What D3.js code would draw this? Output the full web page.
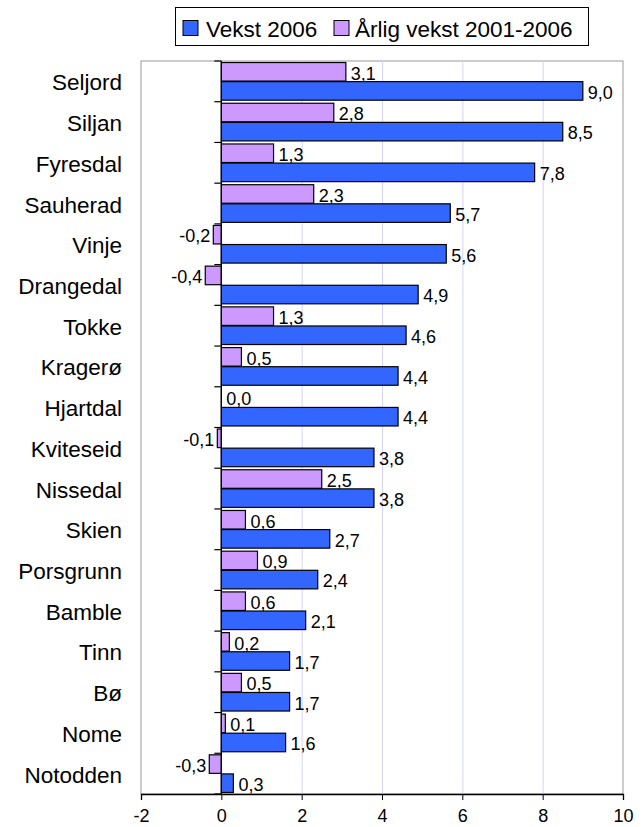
<!DOCTYPE html>
<html><head><meta charset="utf-8">
<script src="https://cdn.jsdelivr.net/npm/d3@7"></script>
<style>body{margin:0;background:#fff;}svg{display:block;font-family:Arial,"Liberation Sans",sans-serif;}</style>
</head><body><svg id="c" width="644" height="827"></svg>
<script>
const categories = ["Seljord","Siljan","Fyresdal","Sauherad","Vinje","Drangedal","Tokke","Kragerø","Hjartdal","Kviteseid","Nissedal","Skien","Porsgrunn","Bamble","Tinn","Bø","Nome","Notodden"];
const vekst2006 = [9.0,8.5,7.8,5.7,5.6,4.9,4.6,4.4,4.4,3.8,3.8,2.7,2.4,2.1,1.7,1.7,1.6,0.3];
const arligVekst = [3.1,2.8,1.3,2.3,-0.2,-0.4,1.3,0.5,0.0,-0.1,2.5,0.6,0.9,0.6,0.2,0.5,0.1,-0.3];
const xTicks = [-2,0,2,4,6,8,10];
const seriesNames = ["Vekst 2006","Årlig vekst 2001-2006"];
const colors = {v:"#3366ff", a:"#cc99ff"};

const svg = d3.select("#c");
const L=141, R=623, T=61, B=794;
const x = d3.scaleLinear().domain([-2,10]).range([L,R]);
const y = d3.scaleBand().domain(categories).range([T,B]).paddingInner(0).paddingOuter(0);
const inner = d3.scaleBand().domain(["a","v"]).range([0,y.bandwidth()]).paddingOuter(0.08).paddingInner(0.03);
const fmt = v => d3.format(".1f")(v).replace(".",",").replace("−","-");

// plot border (gray)
svg.append("rect").attr("x",L).attr("y",T).attr("width",R-L).attr("height",B-T)
  .attr("fill","none").attr("stroke","#999").attr("stroke-width",1);
// gridlines
svg.append("g").selectAll("line").data(xTicks.filter(t=>t>0&&t<10)).join("line")
  .attr("x1",d=>x(d)+0.5).attr("x2",d=>x(d)+0.5).attr("y1",T).attr("y2",B)
  .attr("stroke","#d4d4f4").attr("stroke-width",1);

// bars
const g = svg.append("g");
categories.forEach((c,i)=>{
  [["a",arligVekst[i]],["v",vekst2006[i]]].forEach(([k,v])=>{
    const y0 = y(c)+inner(k);
    const x0 = x(Math.min(0,v)), x1 = x(Math.max(0,v));
    g.append("rect").attr("x",x0).attr("y",y0).attr("width",Math.max(x1-x0,0.01)).attr("height",inner.bandwidth())
      .attr("fill",colors[k]).attr("stroke","#000").attr("stroke-width",1.2);
    const tx = v<0 ? x(v)-3 : x(v)+5;
    g.append("text").attr("x",tx).attr("y",y0+inner.bandwidth()-1.5)
      .attr("text-anchor",v<0?"end":"start").attr("font-size",18).attr("fill","#000").text(fmt(v));
  });
});

// y axis at 0
const yAxis = svg.append("g");
yAxis.append("line").attr("x1",x(0)).attr("x2",x(0)).attr("y1",T).attr("y2",B).attr("stroke","#000").attr("stroke-width",1.3);
yAxis.selectAll(".tk").data(d3.range(categories.length+1)).join("line")
  .attr("x1",x(0)-7).attr("x2",x(0)).attr("y1",d=>T+d*y.step()).attr("y2",d=>T+d*y.step())
  .attr("stroke","#000").attr("stroke-width",1.2);
// category labels
svg.append("g").selectAll("text").data(categories).join("text")
  .attr("x",122).attr("y",d=>y(d)+y.bandwidth()/2+9).attr("text-anchor","end")
  .attr("font-size",22.5).attr("fill","#000").text(d=>d);

// x axis
const xa = svg.append("g").attr("transform",`translate(0,${B})`)
  .call(d3.axisBottom(x).tickValues(xTicks).tickSize(6).tickFormat(d=>d<0?"-"+Math.abs(d):d));
xa.select(".domain").attr("stroke","#000").attr("stroke-width",1.3);
xa.selectAll(".tick line").attr("stroke","#000");
xa.selectAll(".tick text").attr("font-size",18).attr("font-family","Arial,'Liberation Sans',sans-serif").attr("fill","#000").attr("dy",0).attr("y",28);

// legend
const lg = svg.append("g");
lg.append("rect").attr("x",175.5).attr("y",7.5).attr("width",413).attr("height",38).attr("fill","#fff").attr("stroke","#000");
const items=[{n:seriesNames[0],c:colors.v,sx:183,tx:206},{n:seriesNames[1],c:colors.a,sx:334,tx:355}];
items.forEach(it=>{
  lg.append("rect").attr("x",it.sx).attr("y",20.5).attr("width",15).attr("height",15).attr("fill",it.c).attr("stroke","#000");
  lg.append("text").attr("x",it.tx).attr("y",36.5).attr("font-size",22.5).attr("fill","#000").text(it.n);
});
</script></body></html>
